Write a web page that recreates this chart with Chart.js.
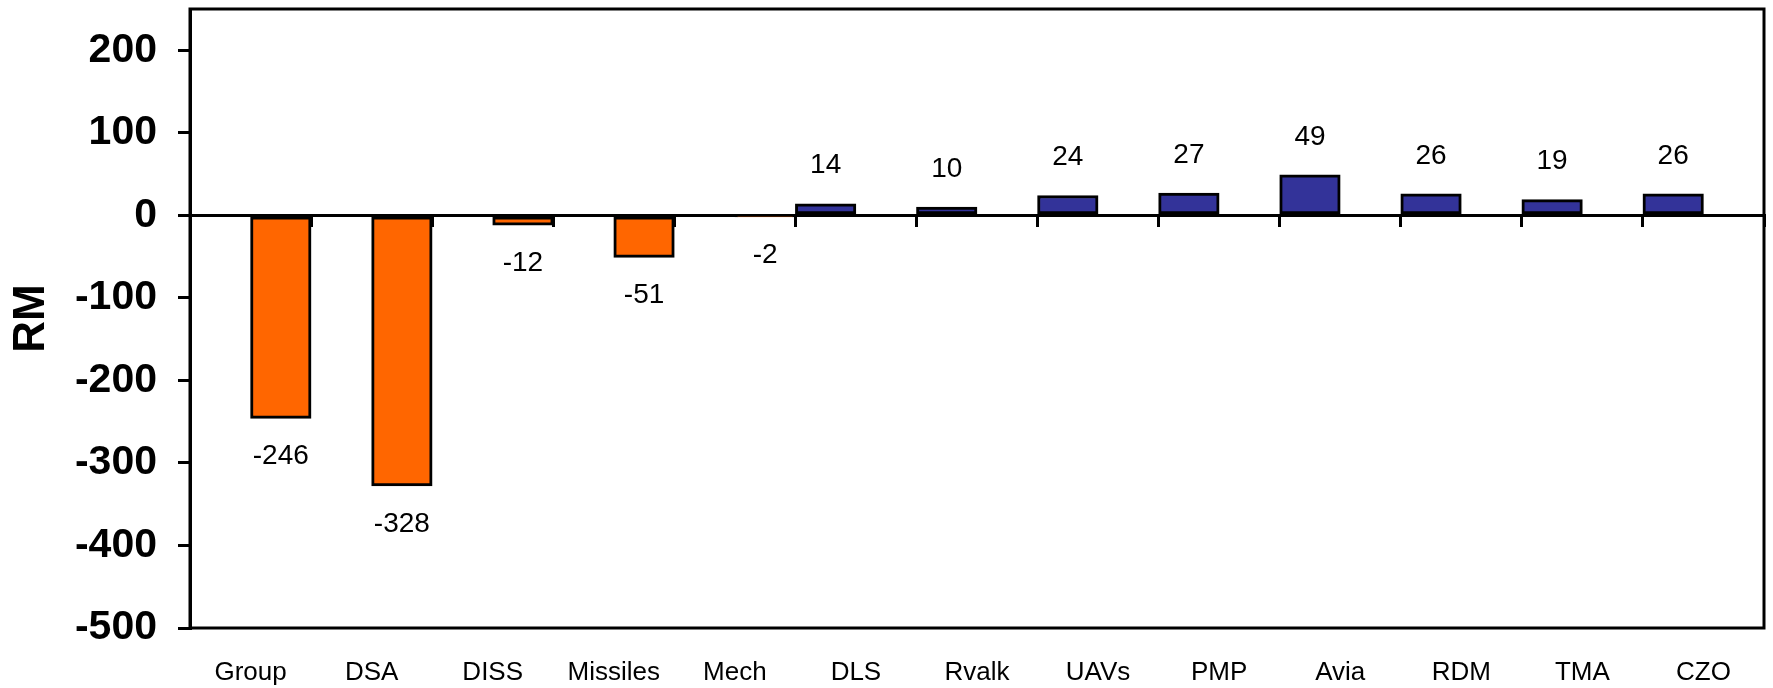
<!DOCTYPE html>
<html lang="en">

<head>
    <meta charset="UTF-8">
    <title>RM by unit</title>
    <script src="https://cdn.jsdelivr.net/npm/chart.js"></script>
    <style>
        body { margin: 0; background: #fff; }
        #wrap { width: 1773px; height: 688px; }
    </style>
</head>

<body>

    <div id="wrap">
        <canvas id="chartRM"></canvas>
    </div>

    <script>
        const categories = ['Group', 'DSA', 'DISS', 'Missiles', 'Mech', 'DLS', 'Rvalk', 'UAVs', 'PMP', 'Avia', 'RDM', 'TMA', 'CZO'];
        // two series like the original sheet: gains (blue) and losses (orange)
        const gains = [null, null, null, null, null, 14, 10, 24, 27, 49, 26, 19, 26];
        const losses = [-246, -328, -12, -51, -2, null, null, null, null, null, null, null, null];
        const yTicks = [-500, -400, -300, -200, -100, 0, 100, 200];

        const FONT = "'Liberation Sans', Arial, sans-serif";
        Chart.defaults.color = '#000';
        Chart.defaults.font.family = FONT;

        // value labels above / below each bar
        const valueLabels = {
            id: 'valueLabels',
            afterDatasetsDraw(chart) {
                const ctx = chart.ctx;
                ctx.save();
                ctx.font = '28px ' + FONT;
                ctx.fillStyle = '#000';
                ctx.textAlign = 'center';
                ctx.textBaseline = 'middle';
                chart.data.datasets.forEach((ds, i) => {
                    chart.getDatasetMeta(i).data.forEach((bar, j) => {
                        const v = ds.data[j];
                        if (v === null) return;
                        ctx.fillText(String(v), bar.x, v >= 0 ? bar.y - 38 : bar.y + 38);
                    });
                });
                ctx.restore();
            }
        };

        // box round the plot area
        const frame = {
            id: 'frame',
            afterDraw(chart) {
                const a = chart.chartArea;
                const ctx = chart.ctx;
                ctx.save();
                ctx.strokeStyle = '#000';
                ctx.lineWidth = 3;
                ctx.strokeRect(a.left, a.top, a.right - a.left, a.bottom - a.top);
                ctx.restore();
            }
        };

        new Chart(document.getElementById('chartRM').getContext('2d'), {
            type: 'bar',
            data: {
                labels: categories,
                datasets: [{
                    label: 'gains',
                    data: gains,
                    backgroundColor: '#333399',
                    borderColor: '#000',
                    borderWidth: 3,
                    borderSkipped: false
                }, {
                    label: 'losses',
                    data: losses,
                    backgroundColor: '#FF6600',
                    borderColor: '#000',
                    borderWidth: 3,
                    borderSkipped: false
                }]
            },
            options: {
                responsive: true,
                maintainAspectRatio: false,
                animation: false,
                categoryPercentage: 1.0,
                barPercentage: 1.0,
                layout: { padding: { left: 0, top: 9, right: 9, bottom: 0 } },
                plugins: {
                    legend: { display: false },
                    tooltip: { enabled: false }
                },
                scales: {
                    x: {
                        position: 'bottom',
                        grid: { display: false },
                        border: { display: false },
                        ticks: { font: { size: 26 }, padding: 21, maxRotation: 0, autoSkip: false },
                        afterFit(scale) { scale.height = 60; }
                    },
                    zero: {
                        type: 'category',
                        axis: 'x',
                        labels: categories,
                        position: { y: 0 },
                        offset: true,
                        grid: {
                            offset: true,
                            drawOnChartArea: false,
                            drawTicks: true,
                            tickLength: 10,
                            color: '#000',
                            lineWidth: 3
                        },
                        border: { display: true, color: '#000', width: 3 },
                        ticks: { display: false }
                    },
                    y: {
                        min: -500,
                        max: 250,
                        afterBuildTicks(scale) {
                            scale.ticks = yTicks.map(v => ({ value: v }));
                        },
                        grid: {
                            drawOnChartArea: false,
                            drawTicks: true,
                            tickLength: 12,
                            color: '#000',
                            lineWidth: 3
                        },
                        border: { display: true, color: '#000', width: 3 },
                        ticks: { font: { size: 41, weight: 'bold' }, padding: 21 },
                        title: {
                            display: true,
                            text: 'RM',
                            font: { size: 44, weight: 'bold' },
                            padding: { top: 5, bottom: 0 }
                        },
                        afterFit(scale) {
                            scale.width = 190;
                            scale.paddingTop = 0;
                            scale.paddingBottom = 0;
                        }
                    }
                }
            },
            plugins: [valueLabels, frame]
        });
    </script>

</body>

</html>
